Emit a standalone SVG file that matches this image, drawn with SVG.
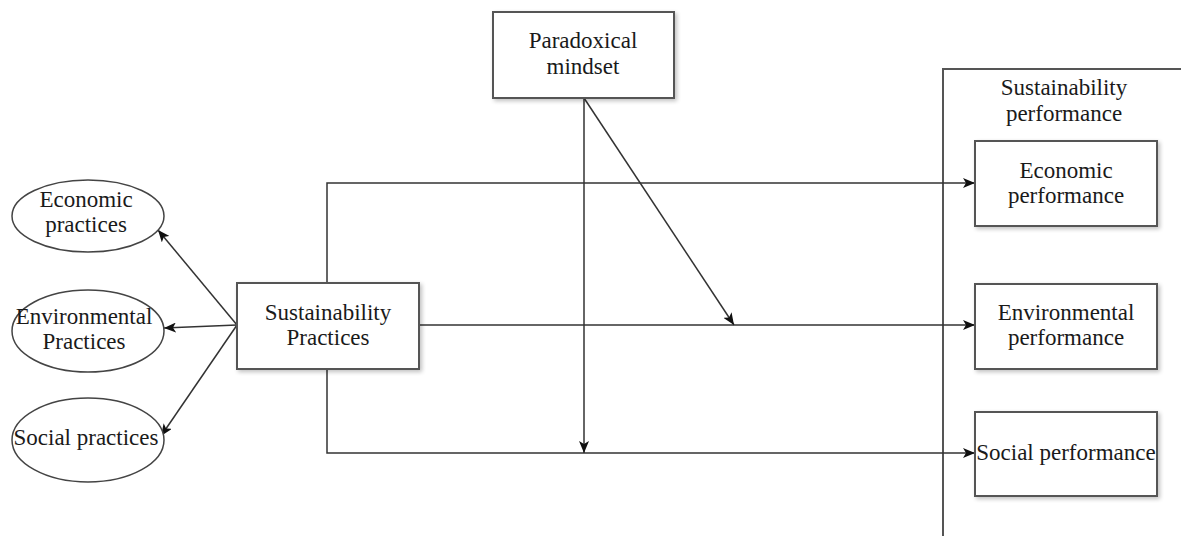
<svg xmlns="http://www.w3.org/2000/svg" width="1181" height="536" viewBox="0 0 1181 536">
<defs>
<style>
.box{fill:#fff;stroke:#555;stroke-width:2;filter:url(#sh)}
.ell{fill:#fff;stroke:#444;stroke-width:1.5}
.ln{fill:none;stroke:#333;stroke-width:1.5}
text{font-family:'Liberation Serif',serif;font-size:23px;fill:#1a1a1a;text-anchor:middle}
</style>
<filter id="sh" x="-10%" y="-10%" width="130%" height="130%">
<feGaussianBlur in="SourceAlpha" stdDeviation="2"/>
<feOffset dx="2" dy="2" result="b"/>
<feComponentTransfer><feFuncA type="linear" slope="0.25"/></feComponentTransfer>
<feMerge><feMergeNode/><feMergeNode in="SourceGraphic"/></feMerge>
</filter>
<marker id="ah" viewBox="0 0 12 10" refX="12" refY="5" markerWidth="12" markerHeight="10" markerUnits="userSpaceOnUse" orient="auto">
<path d="M0,0 L12,5 L0,10 L3,5 z" fill="#111"/>
</marker>
</defs>
<rect width="1181" height="536" fill="#fff"/>

<g id="outer-performance">
<rect x="943" y="69" width="260" height="500" fill="none" stroke="#555" stroke-width="2"/>
<text x="1064" y="95">Sustainability</text>
<text x="1064" y="121">performance</text>
</g>

<g id="connectors">
<line class="ln" x1="237" y1="325" x2="158" y2="230" marker-end="url(#ah)"/>
<line class="ln" x1="237" y1="325" x2="164" y2="328" marker-end="url(#ah)"/>
<line class="ln" x1="237" y1="325" x2="161" y2="436" marker-end="url(#ah)"/>
<polyline class="ln" points="327,283 327,183 975,183" marker-end="url(#ah)"/>
<line class="ln" x1="419" y1="325" x2="975" y2="325" marker-end="url(#ah)"/>
<polyline class="ln" points="327,369 327,453 975,453" marker-end="url(#ah)"/>
<line class="ln" x1="584" y1="98" x2="584" y2="453" marker-end="url(#ah)"/>
<line class="ln" x1="584" y1="98" x2="734" y2="325" marker-end="url(#ah)"/>
</g>

<g id="paradoxical-mindset">
<rect class="box" x="493" y="12" width="181" height="86"/>
<text x="583" y="48">Paradoxical</text>
<text x="583" y="74">mindset</text>
</g>

<g id="sustainability-practices">
<rect class="box" x="237" y="283" width="182" height="86"/>
<text x="328" y="320">Sustainability</text>
<text x="328" y="345">Practices</text>
</g>

<g id="economic-practices">
<ellipse class="ell" cx="88" cy="216" rx="76" ry="36"/>
<text x="86" y="207">Economic</text>
<text x="86" y="232">practices</text>
</g>

<g id="environmental-practices">
<ellipse class="ell" cx="88" cy="331" rx="76" ry="41"/>
<text x="84" y="324">Environmental</text>
<text x="84" y="349">Practices</text>
</g>

<g id="social-practices">
<ellipse class="ell" cx="88" cy="440" rx="76" ry="42"/>
<text x="86" y="445">Social practices</text>
</g>

<g id="economic-performance">
<rect class="box" x="975" y="141" width="182" height="85"/>
<text x="1066" y="178">Economic</text>
<text x="1066" y="203">performance</text>
</g>

<g id="environmental-performance">
<rect class="box" x="975" y="284" width="182" height="85"/>
<text x="1066" y="320">Environmental</text>
<text x="1066" y="345">performance</text>
</g>

<g id="social-performance">
<rect class="box" x="975" y="412" width="182" height="84"/>
<text x="1066" y="460">Social performance</text>
</g>
</svg>
